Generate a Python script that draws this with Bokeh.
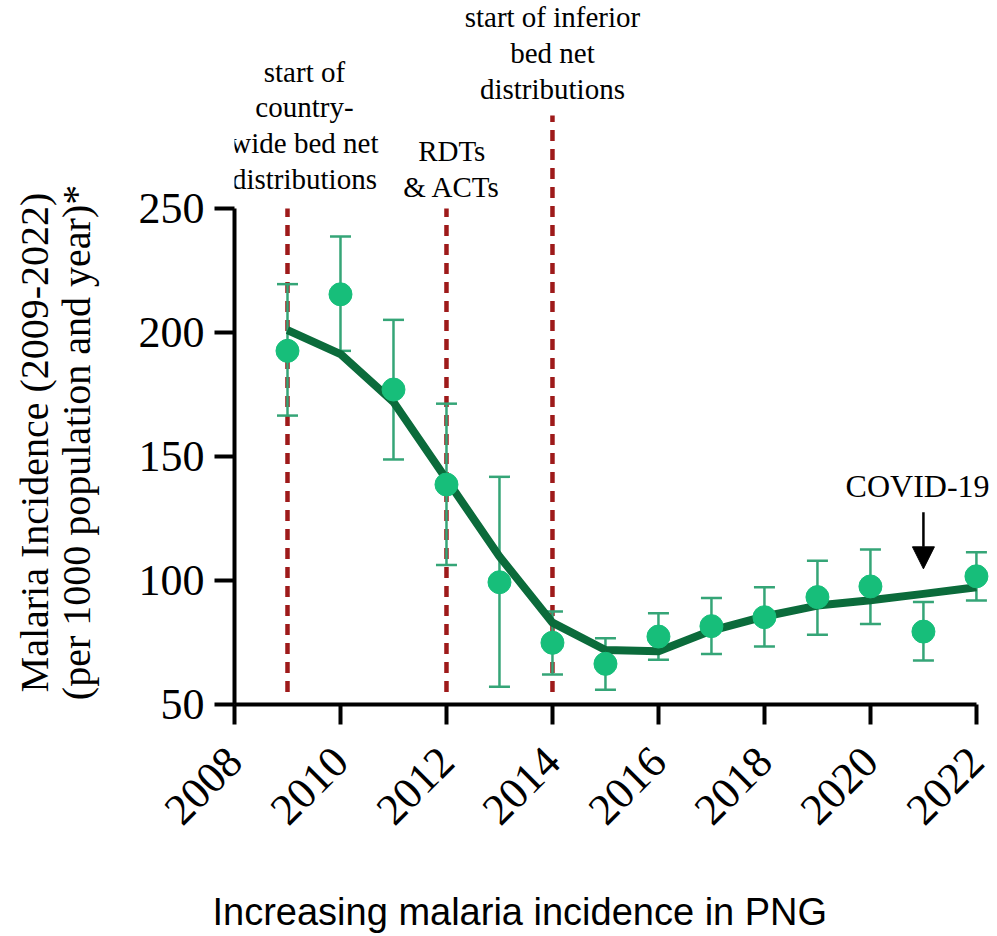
import math
from bokeh.plotting import figure
from bokeh.models import (ColumnDataSource, Range1d, FixedTicker, Arrow, NormalHead, Title)
from bokeh.core.properties import value
from bokeh.embed import file_html
from bokeh.resources import INLINE

# ---------------- data ----------------
years = [2009, 2010, 2011, 2012, 2013, 2014, 2015, 2016, 2017, 2018, 2019, 2020, 2021, 2022]
incidence = [192.6, 215.4, 177.0, 138.7, 99.3, 74.9, 66.4, 77.4, 81.6, 85.2, 93.3, 97.6, 79.4, 101.7]
upper = [219.5, 238.7, 205.1, 171.3, 141.8, 87.5, 76.7, 86.8, 92.9, 97.3, 108.0, 112.5, 91.3, 111.4]
lower = [166.5, 192.6, 148.8, 106.3, 57.2, 62.1, 55.9, 68.0, 70.4, 73.4, 78.1, 82.5, 67.7, 91.9]
trend = [201.0, 191.3, 172.0, 140.8, 109.7, 83.0, 72.0, 71.5, 79.8, 85.5, 89.9, 92.0, 94.6, 97.3]

event_years = [2009, 2012, 2014]
event_line_top = [250, 250, 287.5]
event_line_bottom = [55, 55, 55]
event_text_x = [2009.32, 2012.1, 2014]
event_text_y = [283.5, 265.8, 312.8]
event_texts = ["start of\ncountry-\nwide bed net\ndistributions",
               "RDTs\n& ACTs",
               "start of inferior\nbed net\ndistributions"]

covid_year = 2021
covid_label_x = 2020.89
covid_label_y = 138.3
covid_arrow_top = 127.5
covid_arrow_tip = 104.7

x_ticks = [2008, 2010, 2012, 2014, 2016, 2018, 2020, 2022]
y_ticks = [50, 100, 150, 200, 250]
y_title_lines = ["Malaria Incidence (2009-2022)", "(per 1000 population and year)*"]
caption = "Increasing malaria incidence in PNG"

# ---------------- figure ----------------
SERIF = "Liberation Serif"

p = figure(width=997, height=936, output_backend="svg", toolbar_location=None,
           x_range=Range1d(2008, 2022.36), y_range=Range1d(50, 333.87),
           min_border_left=234, min_border_right=2, min_border_top=0, min_border_bottom=232)
p.background_fill_color = "white"
p.border_fill_color = "white"
p.outline_line_color = None
p.grid.visible = False

xa = p.xaxis[0]
ya = p.yaxis[0]
for ax in (xa, ya):
    ax.axis_line_width = 4
    ax.axis_line_color = "black"
    ax.major_tick_line_width = 4
    ax.major_tick_line_color = "black"
    ax.major_tick_out = 20
    ax.major_tick_in = 0
    ax.minor_tick_line_color = None
    ax.major_label_text_font = SERIF
    ax.major_label_text_font_size = "44px"
    ax.major_label_text_color = "black"
    ax.major_label_standoff = 10

xa.ticker = FixedTicker(ticks=x_ticks)
xa.bounds = (2008, 2022)
xa.major_label_orientation = math.pi / 4
xa.major_label_standoff = 30
# blank axis label only reserves room so the caption sits at the bottom
xa.axis_label = "\u00a0"
xa.axis_label_text_font_size = "10px"
xa.axis_label_standoff = 34

# y title: the label is centred on the frame; trailing no-break spaces move the
# visible text down to sit beside the 50-250 axis like the original
pad = "\u00a0" * 18
ya.ticker = FixedTicker(ticks=y_ticks)
ya.bounds = (50, 250)
ya.axis_label = "\n".join(line + pad for line in y_title_lines)
ya.axis_label_text_font = SERIF
ya.axis_label_text_font_size = "40px"
ya.axis_label_text_font_style = "normal"
ya.axis_label_text_color = "black"
ya.axis_label_text_line_height = 0.93
ya.axis_label_standoff = 37

cap = Title(text=caption, align="left", offset=-22,
            text_font="Liberation Sans", text_font_size="38px", text_font_style="normal",
            text_color="black", standoff=0)
p.add_layout(cap, "below")

# event lines
ev = ColumnDataSource(dict(x=event_years, top=event_line_top, bottom=event_line_bottom))
p.segment(x0="x", y0="bottom", x1="x", y1="top", source=ev,
          line_color="#9E1A1A", line_width=4.5, line_dash="11 8")

# error bars
src = ColumnDataSource(dict(x=years, y=incidence, up=upper, lo=lower, trend=trend))
err_color = "#35A577"
p.segment(x0="x", y0="lo", x1="x", y1="up", source=src, line_color=err_color, line_width=2.5)
p.scatter(x="x", y="up", source=src, marker="dash", size=21, line_color=err_color, line_width=2.5)
p.scatter(x="x", y="lo", source=src, marker="dash", size=21, line_color=err_color, line_width=2.5)

# trend line
p.line(x="x", y="trend", source=src, line_color="#0B6B3B", line_width=8, line_join="round")

# points
p.scatter(x="x", y="y", source=src, size=23, fill_color="#17BE7A", line_color="#17BE7A")

# annotation texts
tsrc = ColumnDataSource(dict(x=event_text_x, y=event_text_y, t=event_texts))
p.text(x="x", y="y", text="t", source=tsrc, text_font=value(SERIF), text_font_size="29px",
       text_align="center", text_baseline="middle", text_color="black", text_line_height=1.12)

csrc = ColumnDataSource(dict(x=[covid_label_x], y=[covid_label_y], t=["COVID-19"]))
p.text(x="x", y="y", text="t", source=csrc, text_font=value(SERIF), text_font_size="32px",
       text_align="center", text_baseline="middle", text_color="black")

p.add_layout(Arrow(end=NormalHead(size=22, fill_color="black", line_color="black"),
                   x_start=covid_year, y_start=covid_arrow_top,
                   x_end=covid_year, y_end=covid_arrow_tip,
                   line_color="black", line_width=2.5))

open("out.html", "w").write(file_html(p, INLINE))
